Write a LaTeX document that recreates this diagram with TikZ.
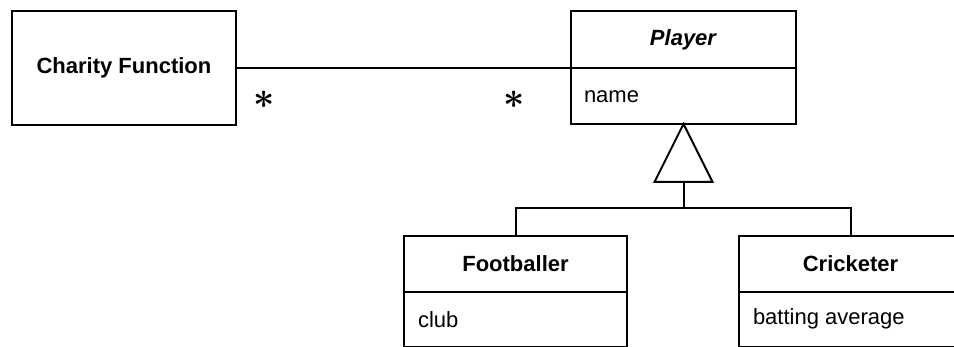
\documentclass[tikz,border=0pt]{standalone}
\usepackage{graphicx}
\usepackage{fontspec}
\setmainfont{Liberation Sans}
\begin{document}
\begin{tikzpicture}[x=1pt,y=-1pt,
  line width=2pt,
  txt/.style={font=\fontsize{22}{26}\selectfont},
  box/.style={draw, rectangle, inner sep=0pt, outer sep=0pt, txt},
  cls/.style={box, minimum width=223pt},
  attr/.style={anchor=west, inner sep=0pt, txt},
  mult/.style={inner sep=0pt, font=\fontsize{10}{12}\selectfont\boldmath}
]
\useasboundingbox (0,0) rectangle (954,347);
\clip (0,0) rectangle (954,347);
% Charity Function
\node[box, minimum width=224pt, minimum height=114pt] (cf) at (124,68) {\textbf{Charity Function}};
% Player
\node[box, minimum width=225pt, minimum height=57pt] (pt) at (683.5,39.5) {\textbf{\textit{Player}}};
\node[box, minimum width=225pt, minimum height=56pt, anchor=north] (pa) at (pt.south) {};
\node[attr] (pname) at (583,96.5) {name};
% association
\draw (cf.east) -- (pt.south west);
\node[mult] (m1) at (264,100) {\scalebox{3.7}{$\ast$}};
\node[mult] (m2) at (514,100) {\scalebox{3.7}{$\ast$}};
% Footballer
\node[cls, minimum height=56pt] (ft) at (515.5,264) {\textbf{Footballer}};
\node[cls, minimum height=55pt, anchor=north] (fa) at (ft.south) {};
\node[attr] (fclub) at (417,320) {club};
% Cricketer
\node[cls, minimum height=56pt] (ct) at (850.5,264) {\textbf{Cricketer}};
\node[cls, minimum height=55pt, anchor=north] (ca) at (ct.south) {};
\node[attr] (cbat) at (752,319) {batting average};
% generalization
\draw (pa.south) -- ++(-29,58) coordinate (tl) -- ++(58,0) -- cycle;
\coordinate (tb) at ([xshift=29pt]tl);
\draw (tb) -- ++(0,26) coordinate (j);
\draw (ft.north) |- (j) -| (ct.north);
\end{tikzpicture}
\end{document}
